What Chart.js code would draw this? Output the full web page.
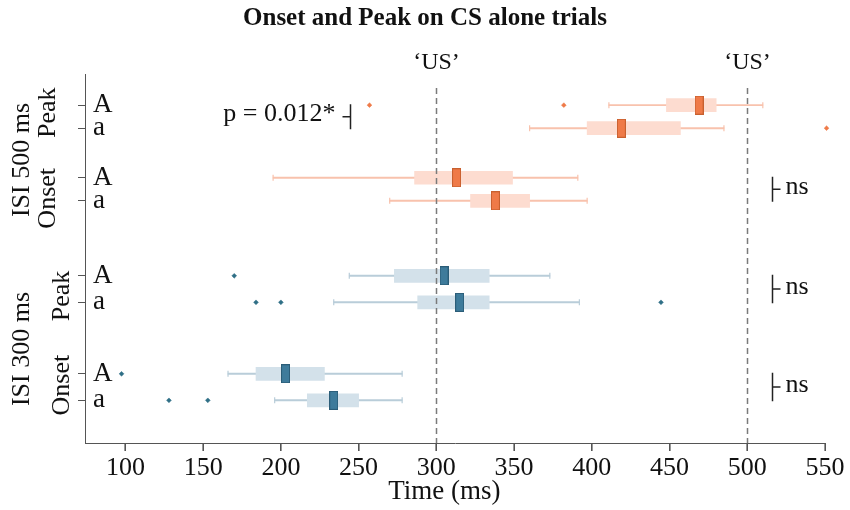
<!DOCTYPE html>
<html>
<head>
<meta charset="utf-8">
<script src="https://cdn.jsdelivr.net/npm/chart.js@4/dist/chart.umd.min.js"></script>
<style>
  html, body { margin: 0; padding: 0; background: #fff; }
  #wrap { width: 850px; height: 510px; }
</style>
</head>
<body>
<div id="wrap"><canvas id="chart"></canvas></div>
<script>
  // ── Data ───────────────────────────────────────────────────
  const rowLabels = ["A", "a", "A", "a", "A", "a", "A", "a"];
  const rowPos = [1.35, 2.35, 4.5, 5.5, 8.75, 9.9, 13, 14.15];
  const rowIsi = [500, 500, 500, 500, 300, 300, 300, 300];

  const whiskerLo = [411, 360, 195, 270, 244, 234, 166, 196];
  const boxQ1 = [448, 397, 286, 322, 273, 288, 184, 217];
  const medians = [469, 419, 313, 338, 305, 315, 203, 234];
  const boxQ3 = [480, 457, 349, 360, 334, 334, 228, 250];
  const whiskerHi = [510, 485, 391, 397, 373, 392, 278, 278];
  const outliers = [[257, 382], [551], [], [], [170], [184, 200, 444.5], [97.5], [128, 153]];

  const groupLabels = ["Peak", "Onset", "Peak", "Onset"];
  const groupRows = [[0, 1], [2, 3], [4, 5], [6, 7]];
  const isiLabels = ["ISI 500 ms", "ISI 300 ms"];
  const isiRows = [[0, 3], [4, 7]];

  const xTicks = [100, 150, 200, 250, 300, 350, 400, 450, 500, 550];
  const usLines = [300, 500];

  const compRows = [[0, 1], [2, 3], [4, 5], [6, 7]];
  const compText = ["p = 0.012*", "ns", "ns", "ns"];
  const compX = [244.6, 516.2, 516.2, 516.2];
  const compSide = ["left", "right", "right", "right"];

  const titleText = "Onset and Peak on CS alone trials";
  const xTitle = "Time (ms)";

  // ── Styles ─────────────────────────────────────────────────
  const SERIF = "'Liberation Serif', 'DejaVu Serif', serif";
  const AXIS = "#555";
  const palette = {
    500: { box: "#fddcd0", whisker: "#f8c2ad", median: "#ef7a48", medianEdge: "#c8602f", dot: "#ef7a48" },
    300: { box: "#d3e1ea", whisker: "#b9cdd9", median: "#3e7b9b", medianEdge: "#2b5d78", dot: "#2f6f86" },
  };

  function medianMarker(fill, edge) {
    const c = document.createElement("canvas");
    c.width = 9;
    c.height = 19;
    const g = c.getContext("2d");
    g.fillStyle = fill;
    g.fillRect(0, 0, 9, 19);
    g.strokeStyle = edge;
    g.lineWidth = 1;
    g.strokeRect(0.5, 0.5, 8, 18);
    return c;
  }

  function buildDatasets(isi) {
    const col = palette[isi];
    const rows = rowPos.map((_, i) => i).filter((i) => rowIsi[i] === isi);
    const caps = [];
    rows.forEach((i) => {
      caps.push({ x: whiskerLo[i], y: rowPos[i] });
      caps.push({ x: whiskerHi[i], y: rowPos[i] });
    });
    const dots = [];
    rows.forEach((i) => outliers[i].forEach((v) => dots.push({ x: v, y: rowPos[i] })));
    return [
      {
        type: "bar", indexAxis: "y", grouped: false, order: 5,
        data: rows.map((i) => ({ x: [whiskerLo[i], whiskerHi[i]], y: rowPos[i] })),
        backgroundColor: col.whisker, barThickness: 1.3, borderWidth: 0,
      },
      {
        type: "scatter", order: 4, data: caps,
        pointStyle: "line", rotation: 90, radius: 3, borderColor: col.whisker, borderWidth: 1.2,
      },
      {
        type: "bar", indexAxis: "y", grouped: false, order: 3,
        data: rows.map((i) => ({ x: [boxQ1[i], boxQ3[i]], y: rowPos[i] })),
        backgroundColor: col.box, barThickness: 13, borderWidth: 0,
      },
      {
        type: "scatter", order: 2,
        data: rows.map((i) => ({ x: medians[i], y: rowPos[i] })),
        pointStyle: medianMarker(col.median, col.medianEdge),
      },
      {
        type: "scatter", order: 1, data: dots, clip: false,
        pointStyle: "rectRot", radius: 2.4, backgroundColor: col.dot, borderColor: col.dot, borderWidth: 0.5,
      },
    ];
  }

  // ── Annotations plugin ─────────────────────────────────────
  const annotations = {
    id: "annotations",
    afterDraw(chart) {
      const { ctx, chartArea } = chart;
      const xs = chart.scales.x;
      const ys = chart.scales.y;
      ctx.save();
      ctx.setLineDash([]);

      // title
      ctx.fillStyle = "#111";
      ctx.font = "bold 25px " + SERIF;
      ctx.textAlign = "center";
      ctx.textBaseline = "middle";
      ctx.fillText(titleText, chart.width / 2, 19);

      // x tick marks (pointing down) and axis title
      ctx.fillStyle = AXIS;
      xTicks.forEach((v) => {
        const px = Math.round(xs.getPixelForValue(v));
        ctx.fillRect(px - 0.6, chartArea.bottom, 1.2, 8);
      });
      ctx.fillStyle = "#111";
      ctx.font = "27px " + SERIF;
      ctx.fillText(xTitle, xs.getPixelForValue(300) + 8, chartArea.bottom + 49);

      // 'US' reference lines
      usLines.forEach((v) => {
        const px = Math.round(xs.getPixelForValue(v)) + 0.5;
        ctx.strokeStyle = "#7a7a7a";
        ctx.lineWidth = 1.5;
        ctx.setLineDash([6, 4]);
        ctx.beginPath();
        ctx.moveTo(px, chartArea.top + 14);
        ctx.lineTo(px, chartArea.bottom);
        ctx.stroke();
        ctx.setLineDash([]);
        ctx.fillStyle = "#111";
        ctx.font = "24px " + SERIF;
        ctx.textAlign = "center";
        ctx.textBaseline = "middle";
        ctx.fillText("\u2018US\u2019", px, chartArea.top - 11);
      });

      // comparison brackets
      compRows.forEach((r, k) => {
        const px = Math.round(xs.getPixelForValue(compX[k])) + 0.5;
        const y0 = ys.getPixelForValue(rowPos[r[0]]) - 1;
        const y1 = ys.getPixelForValue(rowPos[r[1]]) + 1;
        const ym = (y0 + y1) / 2;
        const dir = compSide[k] === "left" ? -1 : 1;
        ctx.strokeStyle = "#222";
        ctx.lineWidth = 1.5;
        ctx.beginPath();
        ctx.moveTo(px, y0);
        ctx.lineTo(px, y1);
        ctx.moveTo(px, ym);
        ctx.lineTo(px + dir * 8, ym);
        ctx.stroke();
        ctx.fillStyle = "#111";
        ctx.font = "26px " + SERIF;
        ctx.textBaseline = "middle";
        ctx.textAlign = dir < 0 ? "right" : "left";
        ctx.fillText(compText[k], px + dir * (dir < 0 ? 15 : 13), ym - 2);
      });

      // rotated group labels
      ctx.fillStyle = "#111";
      ctx.textAlign = "center";
      ctx.textBaseline = "middle";
      const groupX = [48, 48, 62, 62];
      const groupDy = [-4, 9, 7, -2];
      groupLabels.forEach((lab, k) => {
        const r = groupRows[k];
        const yc = (ys.getPixelForValue(rowPos[r[0]]) + ys.getPixelForValue(rowPos[r[1]])) / 2 + groupDy[k];
        ctx.save();
        ctx.translate(groupX[k], yc);
        ctx.rotate(-Math.PI / 2);
        ctx.font = "26px " + SERIF;
        ctx.fillText(lab, 0, 0);
        ctx.restore();
      });
      const isiDy = [7, 11];
      isiLabels.forEach((lab, k) => {
        const r = isiRows[k];
        const yc = (ys.getPixelForValue(rowPos[r[0]]) + ys.getPixelForValue(rowPos[r[1]])) / 2 + isiDy[k];
        ctx.save();
        ctx.translate(22, yc);
        ctx.rotate(-Math.PI / 2);
        ctx.font = "26px " + SERIF;
        ctx.fillText(lab, 0, 0);
        ctx.restore();
      });
      ctx.restore();
    },
  };

  // ── Chart ──────────────────────────────────────────────────
  new Chart(document.getElementById("chart"), {
    type: "bar",
    data: { datasets: [...buildDatasets(500), ...buildDatasets(300)] },
    options: {
      responsive: true,
      maintainAspectRatio: false,
      animation: false,
      layout: { padding: { left: 0, right: 25, top: 74, bottom: 0 } },
      plugins: {
        legend: { display: false },
        tooltip: { enabled: false },
        title: { display: false },
      },
      scales: {
        x: {
          type: "linear",
          offset: false,
          min: 74,
          max: 550,
          afterBuildTicks: (scale) => { scale.ticks = xTicks.map((v) => ({ value: v })); },
          afterFit: (scale) => { scale.height = 67; },
          grid: {
            display: true, offset: false, drawOnChartArea: false, drawTicks: true,
            tickLength: 8, tickWidth: 1, tickColor: AXIS, color: AXIS,
          },
          border: { display: true, color: AXIS, width: 1 },
          ticks: { color: "#111", padding: 2, font: { family: SERIF, size: 26 } },
          title: { display: false },
        },
        y: {
          type: "linear",
          offset: false,
          reverse: true,
          min: 0,
          max: 16,
          afterBuildTicks: (scale) => { scale.ticks = rowPos.map((v) => ({ value: v })); },
          afterFit: (scale) => { scale.width = 85; },
          grid: {
            display: true, offset: false, drawOnChartArea: false, drawTicks: true,
            tickLength: 7, tickWidth: 1, tickColor: AXIS, color: AXIS,
          },
          border: { display: true, color: AXIS, width: 1 },
          ticks: {
            mirror: true, padding: 8, color: "#111",
            font: { family: SERIF, size: 27 },
            callback: (v, i) => rowLabels[i],
          },
        },
      },
    },
    plugins: [annotations],
  });
</script>
</body>
</html>
